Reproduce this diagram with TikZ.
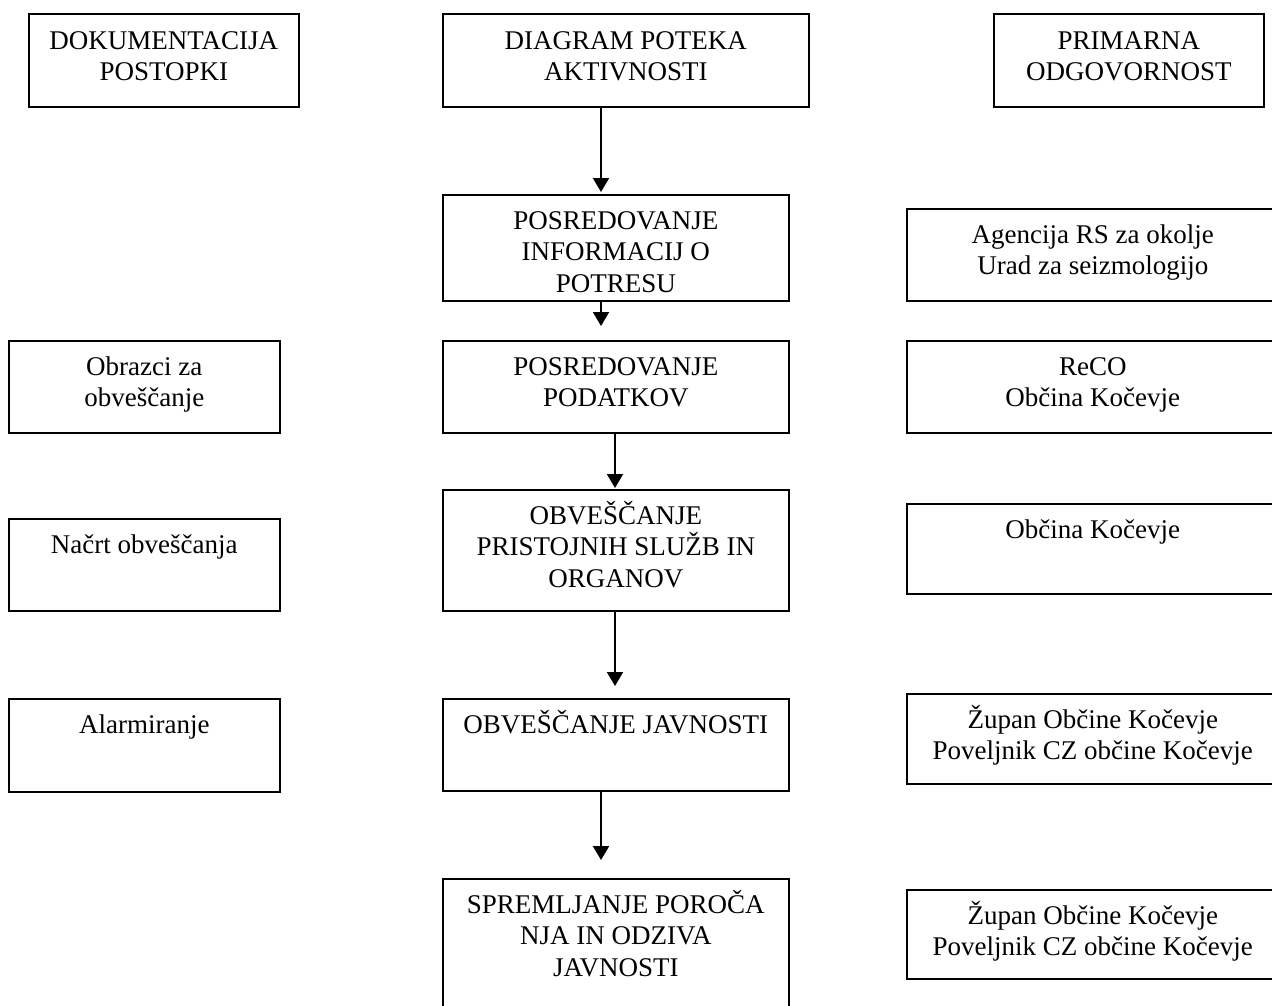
\documentclass[tikz,border=0pt]{standalone}
\usepackage{fontspec}
\setmainfont{Liberation Serif}
\usetikzlibrary{arrows.meta}
\tikzset{
  box/.style={draw, line width=1.6pt, inner sep=0pt, anchor=north west, rectangle},
  txt/.style={anchor=north, inner sep=0pt, align=center, font=\fontsize{27}{31.5}\selectfont},
  arr/.style={line width=2pt, -{Triangle[width=16pt,length=14pt]}}
}
\newcommand\fst{\rule{0pt}{25pt}}
\begin{document}
\begin{tikzpicture}[x=1pt,y=1pt]
\useasboundingbox (0,0) rectangle (1272,-1005);
% header row
\node[box, minimum width=270pt, minimum height=93pt] (b1) at (28,-13) {};
\node[txt] (tb1) at ([yshift=-11pt]b1.north) {\fst DOKUMENTACIJA\\POSTOPKI};
\node[box, minimum width=366pt, minimum height=93pt] (b2) at (442,-13) {};
\node[txt] (tb2) at ([yshift=-11pt]b2.north) {\fst DIAGRAM POTEKA\\AKTIVNOSTI};
\node[box, minimum width=270pt, minimum height=93pt] (b3) at (993,-13) {};
\node[txt] (tb3) at ([yshift=-11pt]b3.north) {\fst PRIMARNA\\ODGOVORNOST};
% middle column
\node[box, minimum width=346pt, minimum height=106pt] (m1) at (442,-194) {};
\node[txt] (tm1) at ([yshift=-10pt]m1.north) {\fst POSREDOVANJE\\INFORMACIJ O\\POTRESU};
\node[box, minimum width=346pt, minimum height=92pt] (m2) at (442,-340) {};
\node[txt] (tm2) at ([yshift=-10pt]m2.north) {\fst POSREDOVANJE\\PODATKOV};
\node[box, minimum width=346pt, minimum height=121pt] (m3) at (442,-489) {};
\node[txt] (tm3) at ([yshift=-10pt]m3.north) {\fst OBVEŠČANJE\\PRISTOJNIH SLUŽB IN\\ORGANOV};
\node[box, minimum width=346pt, minimum height=92pt] (m4) at (442,-698) {};
\node[txt] (tm4) at ([yshift=-10pt]m4.north) {\fst OBVEŠČANJE JAVNOSTI};
\node[box, minimum width=346pt, minimum height=140pt] (m5) at (442,-878) {};
\node[txt] (tm5) at ([yshift=-10pt]m5.north) {\fst SPREMLJANJE POROČA\\NJA IN ODZIVA\\JAVNOSTI};
% left column
\node[box, minimum width=271pt, minimum height=92pt] (l1) at (8,-340) {};
\node[txt] (tl1) at ([yshift=-10pt]l1.north) {\fst Obrazci za\\obveščanje};
\node[box, minimum width=271pt, minimum height=92pt] (l2) at (8,-518) {};
\node[txt] (tl2) at ([yshift=-10pt]l2.north) {\fst Načrt obveščanja};
\node[box, minimum width=271pt, minimum height=93pt] (l3) at (8,-698) {};
\node[txt] (tl3) at ([yshift=-10pt]l3.north) {\fst Alarmiranje};
% right column
\node[box, minimum width=372pt, minimum height=92pt] (r1) at (906,-208) {};
\node[txt] (tr1) at ([yshift=-10pt]r1.north) {\fst Agencija RS za okolje\\Urad za seizmologijo};
\node[box, minimum width=372pt, minimum height=92pt] (r2) at (906,-340) {};
\node[txt] (tr2) at ([yshift=-10pt]r2.north) {\fst ReCO\\Občina Kočevje};
\node[box, minimum width=372pt, minimum height=90pt] (r3) at (906,-503) {};
\node[txt] (tr3) at ([yshift=-10pt]r3.north) {\fst Občina Kočevje};
\node[box, minimum width=372pt, minimum height=90pt] (r4) at (906,-693) {};
\node[txt] (tr4) at ([yshift=-10pt]r4.north) {\fst Župan Občine Kočevje\\Poveljnik CZ občine Kočevje};
\node[box, minimum width=372pt, minimum height=89pt] (r5) at (906,-889) {};
\node[txt] (tr5) at ([yshift=-10pt]r5.north) {\fst Župan Občine Kočevje\\Poveljnik CZ občine Kočevje};
% arrows
\coordinate (a1) at (601,-192);
\coordinate (a2) at (601,-326);
\coordinate (a3) at (615,-488);
\coordinate (a4) at (615,-686);
\coordinate (a5) at (601,-860);
\draw[arr] (b2.south -| a1) -- (a1);
\draw[arr] (m1.south -| a2) -- (a2);
\draw[arr] (m2.south -| a3) -- (a3);
\draw[arr] (m3.south -| a4) -- (a4);
\draw[arr] (m4.south -| a5) -- (a5);
\end{tikzpicture}
\end{document}
